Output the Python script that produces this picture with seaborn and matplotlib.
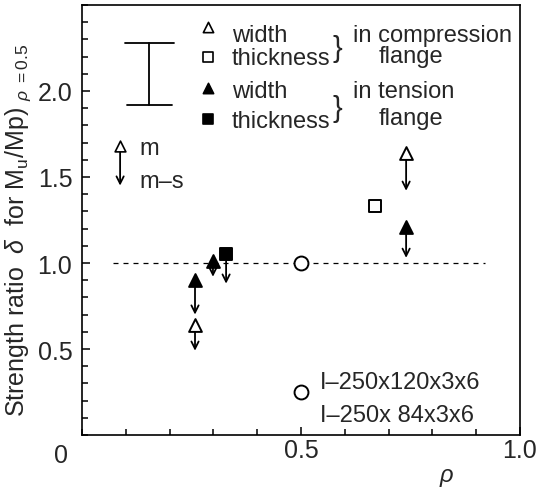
import matplotlib
matplotlib.use("Agg")
import matplotlib.pyplot as plt
from matplotlib.ticker import MultipleLocator, FixedLocator
import seaborn as sns
import pandas as pd

# ---- data ----
rho_w_comp = [0.258, 0.740]
m_w_comp = [0.64, 1.64]
ms_w_comp = [0.49, 1.42]

rho_t_comp = [0.669]
m_t_comp = [1.33]

rho_w_tens = [0.258, 0.299, 0.740]
m_w_tens = [0.90, 1.01, 1.21]
ms_w_tens = [0.70, 0.92, 1.03]

rho_t_tens = [0.329]
m_t_tens = [1.05]
ms_t_tens = [0.88]

rho_ref = [0.5]
ref_val = [1.0]
rho_spec = [0.5]
spec_val = [0.25]

y_ticks = [0.5, 1.0, 1.5, 2.0]
y_ticklabels = ["0.5", "1.0", "1.5", "2.0"]
x_ticks = [0.5, 1.0]
x_ticklabels = ["0.5", "1.0"]

sns.set_style("ticks")
plt.rcParams["font.family"] = ["Liberation Sans", "DejaVu Sans"]
plt.rcParams["mathtext.fontset"] = "custom"
plt.rcParams["mathtext.rm"] = "Liberation Sans"
plt.rcParams["mathtext.it"] = "Liberation Sans:italic"

FS = 17
fig = plt.figure(figsize=(5.39, 4.89), dpi=100)
ax = fig.add_axes([82 / 539, 1 - 436 / 489, (520 - 82) / 539, (436 - 6) / 489])
ax.set_xlim(0, 1.0)
ax.set_ylim(0, 2.5)

for sp in ax.spines.values():
    sp.set_linewidth(1.2)
    sp.set_color("black")

# reference dashed line
ax.plot([0.07, 0.92], [1.0, 1.0], ls=(0, (4, 4)), color="black", lw=0.9, zorder=1)

def arrows(xs, ys0, ys1, shrinkA=5):
    for x, a, b in zip(xs, ys0, ys1):
        ax.annotate("", xy=(x, b), xytext=(x, a),
                    arrowprops=dict(arrowstyle="->", lw=1.3, color="black",
                                    shrinkA=shrinkA, shrinkB=0, mutation_scale=13),
                    zorder=2)

arrows(rho_w_comp, m_w_comp, ms_w_comp)
arrows(rho_w_tens, m_w_tens, ms_w_tens)
arrows(rho_t_tens, m_t_tens, ms_t_tens)

def pts(xs, ys, marker, face, s):
    df = pd.DataFrame({"x": xs, "y": ys})
    sns.scatterplot(data=df, x="x", y="y", marker=marker, s=s, color=face,
                    edgecolor="black", linewidth=1.4, ax=ax, zorder=3, legend=False)

pts(rho_w_comp, m_w_comp, "^", "white", 85)
pts(rho_t_comp, m_t_comp, "s", "white", 75)
pts(rho_w_tens, m_w_tens, "^", "black", 85)
pts(rho_t_tens, m_t_tens, "s", "black", 75)
pts(rho_ref, ref_val, "o", "white", 100)
pts(rho_spec, spec_val, "o", "white", 100)

# ---- legend-like annotations ----
# I-beam symbol
ax.plot([0.098, 0.210], [2.28, 2.28], color="black", lw=1.3)
ax.plot([0.103, 0.205], [1.92, 1.92], color="black", lw=1.3)
ax.plot([0.153, 0.153], [1.92, 2.28], color="black", lw=1.3)

lx = 0.288
ax.scatter([lx], [2.37], marker="^", s=55, facecolor="white", edgecolor="black", linewidth=1.2, zorder=3)
ax.scatter([lx], [2.195], marker="s", s=50, facecolor="white", edgecolor="black", linewidth=1.2, zorder=3)
ax.scatter([lx], [2.015], marker="^", s=55, facecolor="black", edgecolor="black", linewidth=1.2, zorder=3)
ax.scatter([lx], [1.84], marker="s", s=50, facecolor="black", edgecolor="black", linewidth=1.2, zorder=3)

tx = 0.342
ax.text(tx, 2.29, "width", fontsize=FS, va="baseline")
ax.text(tx, 2.155, "thickness", fontsize=FS, va="baseline")
ax.text(tx, 1.965, "width", fontsize=FS, va="baseline")
ax.text(tx, 1.79, "thickness", fontsize=FS, va="baseline")
ax.text(0.584, 2.25, "}", fontsize=FS + 4, va="center", ha="center")
ax.text(0.584, 1.90, "}", fontsize=FS + 4, va="center", ha="center")
ax.text(0.619, 2.29, "in compression", fontsize=FS, va="baseline")
ax.text(0.751, 2.17, "flange", fontsize=FS, va="baseline", ha="center")
ax.text(0.619, 1.965, "in tension", fontsize=FS, va="baseline")
ax.text(0.751, 1.81, "flange", fontsize=FS, va="baseline", ha="center")

# m / m-s legend
ax.annotate("", xy=(0.087, 1.45), xytext=(0.087, 1.68),
            arrowprops=dict(arrowstyle="->", lw=1.3, color="black",
                            shrinkA=4, shrinkB=0, mutation_scale=13))
ax.scatter([0.087], [1.68], marker="^", s=60, facecolor="white", edgecolor="black", linewidth=1.2, zorder=3)
ax.text(0.132, 1.635, "m", fontsize=FS, va="baseline")
ax.text(0.132, 1.44, "m–s", fontsize=FS, va="baseline")

# specimen labels
ax.text(0.543, 0.275, "I–250x120x3x6", fontsize=FS, va="baseline")
ax.text(0.543, 0.08, "I–250x 84x3x6", fontsize=FS, va="baseline")

# ---- ticks ----
ax.yaxis.set_major_locator(FixedLocator(y_ticks))
ax.set_yticklabels(y_ticklabels)
ax.yaxis.set_minor_locator(MultipleLocator(0.1))
ax.xaxis.set_major_locator(FixedLocator(x_ticks))
ax.set_xticklabels(x_ticklabels)
ax.xaxis.set_minor_locator(MultipleLocator(0.1))
ax.tick_params(axis="both", which="both", direction="in", top=False, right=False,
               labelsize=18, width=1.1, color="black")
ax.tick_params(axis="both", which="major", length=6)
ax.tick_params(axis="both", which="minor", length=4)
ax.tick_params(axis="y", which="major", pad=7)
ax.tick_params(axis="x", which="major", pad=2)

ax.text(-0.048, -0.115, "0", fontsize=18, ha="center", va="center", clip_on=False)
ax.text(0.833, -0.245, r"$\it{\rho}$", fontsize=FS, ha="center", va="center", clip_on=False)

ax.set_xlabel("")
ax.set_ylabel(r"Strength ratio  $\delta$  for M$_\mathrm{u}$/Mp) $_{\rho\ =0.5}$",
              fontsize=18)
ax.yaxis.set_label_coords(-0.112, 0.478)

fig.savefig("out.png", dpi=100)
